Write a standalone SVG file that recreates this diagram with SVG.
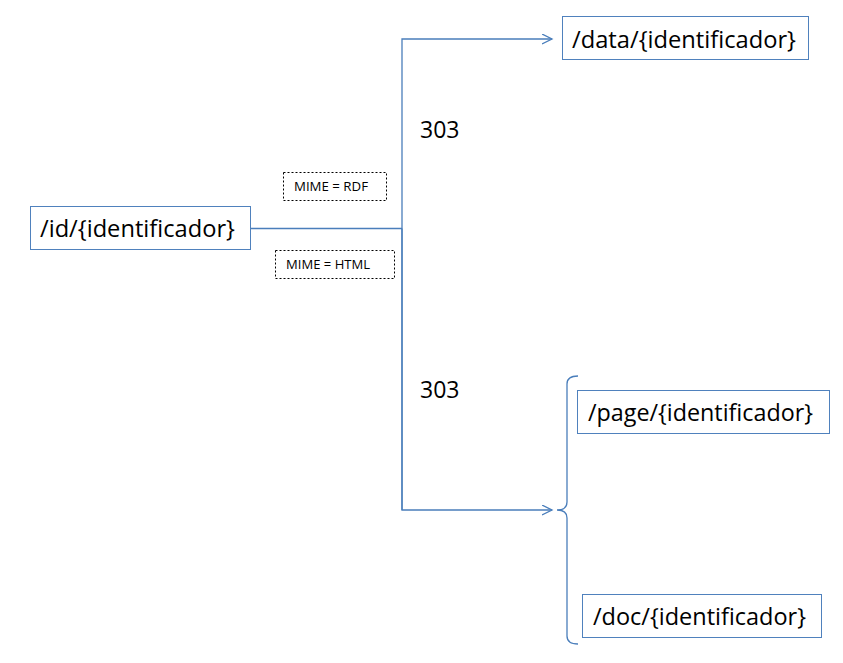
<svg xmlns="http://www.w3.org/2000/svg" width="843" height="663" viewBox="0 0 843 663">
<style>
.box{fill:#fff;stroke:#4f81bd;stroke-width:1}
.lbl{fill:#fff;stroke:#000;stroke-width:1;stroke-dasharray:2,2}
.t{font-family:"Open Sans","Liberation Sans",sans-serif;font-size:23px;fill:#000}
.s{font-family:"Open Sans","Liberation Sans",sans-serif;font-size:12px;fill:#000}
.c{fill:none;stroke:#4a7ebb;stroke-width:1.3}
</style>
<defs>
<marker id="ah" markerWidth="12" markerHeight="12" refX="10" refY="5" orient="auto" markerUnits="userSpaceOnUse">
<path d="M0,0 L10,5 L0,10" fill="none" stroke="#4a7ebb" stroke-width="1.3"/>
</marker>
</defs>
<rect width="843" height="663" fill="#fff"/>
<g id="connectors">
<path class="c" d="M250,228.5 H402"/>
<path class="c" d="M402,510 V39 H552" marker-end="url(#ah)"/>
<path class="c" d="M402,228.5 V510 H552" marker-end="url(#ah)"/>
<path class="c" d="M578,376 Q567,376 567,384 V502 Q567,510 557,510 Q567,510 567,518 V636 Q567,644 578,644"/>
</g>
<g id="id-node">
<rect class="box" x="30.5" y="206.5" width="220" height="43"/>
<text class="t" x="40" y="237" textLength="195" lengthAdjust="spacingAndGlyphs">/id/{identificador}</text>
</g>
<g id="data-node">
<rect class="box" x="562.5" y="16.5" width="246" height="43"/>
<text class="t" x="572" y="48" textLength="224" lengthAdjust="spacingAndGlyphs">/data/{identificador}</text>
</g>
<g id="page-node">
<rect class="box" x="577.5" y="390.5" width="252" height="43"/>
<text class="t" x="588" y="421" textLength="225" lengthAdjust="spacingAndGlyphs">/page/{identificador}</text>
</g>
<g id="doc-node">
<rect class="box" x="582.5" y="594.5" width="239" height="43"/>
<text class="t" x="593" y="625" textLength="213" lengthAdjust="spacingAndGlyphs">/doc/{identificador}</text>
</g>
<g id="rdf-label">
<rect class="lbl" x="283.5" y="172.5" width="103" height="28"/>
<text class="s" x="294" y="191" textLength="74" lengthAdjust="spacingAndGlyphs">MIME = RDF</text>
</g>
<g id="html-label">
<rect class="lbl" x="275.5" y="250.5" width="119" height="28"/>
<text class="s" x="286" y="269" textLength="84" lengthAdjust="spacingAndGlyphs">MIME = HTML</text>
</g>
<g id="code-303-a">
<text class="t" x="420" y="138">303</text>
</g>
<g id="code-303-b">
<text class="t" x="420" y="398">303</text>
</g>
</svg>
